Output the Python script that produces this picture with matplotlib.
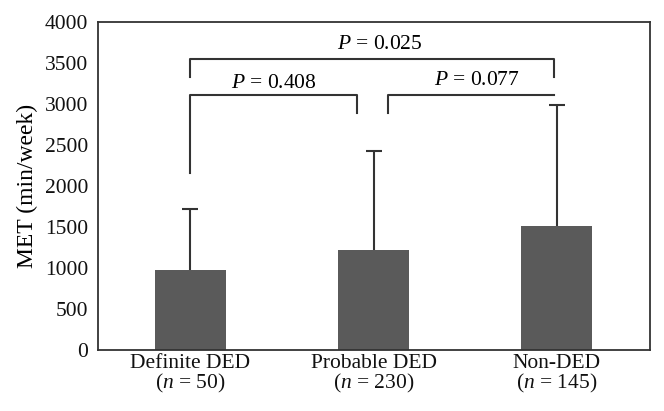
import matplotlib
matplotlib.use("Agg")
import matplotlib.pyplot as plt
import numpy as np

categories = ["Definite DED", "Probable DED", "Non-DED"]
n_labels = ["50", "230", "145"]
means = [970, 1215, 1515]
sds = [750, 1210, 1470]
yticks = [0, 500, 1000, 1500, 2000, 2500, 3000, 3500, 4000]

plt.rcParams['font.family'] = ['Liberation Serif', 'DejaVu Serif']
plt.rcParams['mathtext.fontset'] = 'custom'
plt.rcParams['mathtext.it'] = 'Liberation Serif:italic'
plt.rcParams['mathtext.rm'] = 'Liberation Serif'

fig = plt.figure(figsize=(6.64, 4.11), dpi=100)
ax = fig.add_axes([0.1476, 0.1484, 0.979 - 0.1476, 0.9465 - 0.1484])

x = np.arange(len(categories))
means_a = np.array(means)
sds_a = np.array(sds)
ec = '#333333'
ax.bar(x, means_a, width=0.39, color='#5a5a5a', zorder=2)
ax.vlines(x, means_a, means_a + sds_a, colors=ec, lw=1.5, zorder=3)
ax.plot(x, means_a + sds_a, ls='none', marker='_', ms=12, mew=1.5, color=ec, zorder=3)

lw = 1.5
# brackets
ax.plot([0, 0, 1.985, 1.985], [3330, 3550, 3550, 3330], color=ec, lw=lw)
ax.plot([0, 0, 0.909, 0.909], [2160, 3110, 3110, 2890], color=ec, lw=lw)
ax.plot([1.078, 1.078, 1.985], [2890, 3110, 3110], color=ec, lw=lw)

fs = 15.5
ax.text(1.035, 3720, r'$P$ = 0.025', ha='center', va='center', fontsize=fs)
ax.text(0.453, 3256, r'$P$ = 0.408', ha='center', va='center', fontsize=fs)
ax.text(1.563, 3290, r'$P$ = 0.077', ha='center', va='center', fontsize=fs)

ax.set_xlim(-0.505, 2.51)
ax.set_ylim(0, 4000)
ax.set_yticks(yticks)
ax.set_yticklabels([str(v) for v in yticks], fontsize=fs)
ax.set_xticks(x)
ax.set_xticklabels([f"{c}\n($n$ = {n})" for c, n in zip(categories, n_labels)],
                   fontsize=fs, linespacing=0.9)
ax.tick_params(axis='y', length=0, pad=7, colors='#111111')
ax.tick_params(axis='x', length=0, pad=3, colors='#111111')
ax.set_ylabel('MET (min/week)', fontsize=17, labelpad=5)
for s in ax.spines.values():
    s.set_color(ec)
    s.set_linewidth(1.3)

fig.savefig('out.png', dpi=100)
